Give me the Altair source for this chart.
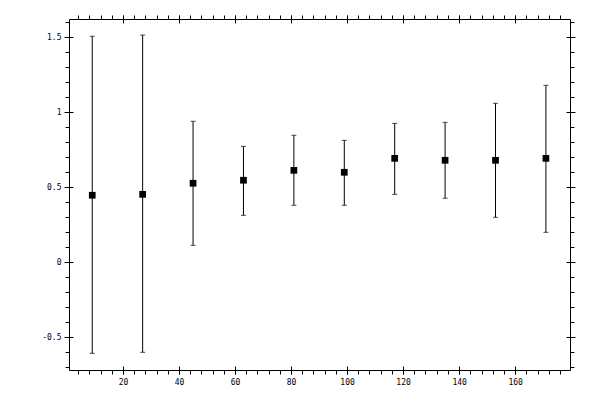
import altair as alt
import pandas as pd

# data
x_pos = [9, 27, 45, 63, 81, 99, 117, 135, 153, 171]
y_mean = [0.445, 0.451, 0.525, 0.545, 0.611, 0.598, 0.691, 0.678, 0.678, 0.691]
y_low = [-0.609, -0.602, 0.111, 0.311, 0.378, 0.378, 0.451, 0.425, 0.298, 0.198]
y_high = [1.505, 1.513, 0.938, 0.771, 0.845, 0.811, 0.924, 0.931, 1.058, 1.178]

x_major = [20, 40, 60, 80, 100, 120, 140, 160]
x_minor = [4 * i for i in range(1, 45)]
y_major = [-0.5, 0, 0.5, 1, 1.5]
y_minor = [round(-0.7 + 0.1 * i, 1) for i in range(0, 24)]

df = pd.DataFrame({"x": x_pos, "y": y_mean, "lo": y_low, "hi": y_high})

xs = alt.Scale(domain=[0.7, 179.6], nice=False, zero=False)
ys = alt.Scale(domain=[-0.72, 1.62], nice=False, zero=False)

FONT = "DejaVu Sans Mono"
common = dict(grid=False, title=None, domainColor="black", tickColor="black",
              domainWidth=1, tickWidth=1, labelColor="black", labelFont=FONT,
              labelFontSize=8, labelOverlap=False, labelFlush=False)

x_lab = "(datum.value % 20 == 0) ? ('' + datum.value) : ''"
y_lab = "(abs(datum.value * 2 - round(datum.value * 2)) < 0.000001) ? ('' + datum.value) : ''"

# minor/all ticks outward, with labels (bottom / left)
ax_x_bottom = alt.Axis(orient="bottom", values=x_minor, labelExpr=x_lab,
                       tickSize=4, labelPadding=4, domain=True, **common)
ax_y_left = alt.Axis(orient="left", values=y_minor, labelExpr=y_lab,
                     tickSize=4, labelPadding=4, domain=True, **common)
# minor ticks outward, no labels (top / right)
ax_x_top = alt.Axis(orient="top", values=x_minor, labels=False,
                    tickSize=4, domain=True, **common)
ax_y_right = alt.Axis(orient="right", values=y_minor, labels=False,
                      tickSize=4, domain=True, **common)
# major ticks crossing the frame
ax_x_bottom_maj = alt.Axis(orient="bottom", values=x_major, labels=False,
                           tickSize=8, offset=-4, domain=False, **common)
ax_y_left_maj = alt.Axis(orient="left", values=y_major, labels=False,
                         tickSize=9, offset=-4, domain=False, **common)
ax_x_top_maj = alt.Axis(orient="top", values=x_major, labels=False,
                        tickSize=8, offset=-4, domain=False, **common)
ax_y_right_maj = alt.Axis(orient="right", values=y_major, labels=False,
                          tickSize=9, offset=-4, domain=False, **common)

base = alt.Chart(df)

rules = base.mark_rule(color="black", strokeWidth=1).encode(
    x=alt.X("x:Q", scale=xs, axis=ax_x_bottom),
    y=alt.Y("lo:Q", scale=ys, axis=ax_y_left),
    y2="hi:Q",
)
caps_lo = base.mark_tick(color="black", orient="horizontal", size=5, thickness=1).encode(
    x=alt.X("x:Q", scale=xs, axis=ax_x_top),
    y=alt.Y("lo:Q", scale=ys, axis=ax_y_right),
)
caps_hi = base.mark_tick(color="black", orient="horizontal", size=5, thickness=1).encode(
    x=alt.X("x:Q", scale=xs, axis=ax_x_bottom_maj),
    y=alt.Y("hi:Q", scale=ys, axis=ax_y_left_maj),
)
squares = base.mark_square(color="black", filled=True, size=45, opacity=1).encode(
    x=alt.X("x:Q", scale=xs, axis=ax_x_top_maj),
    y=alt.Y("y:Q", scale=ys, axis=ax_y_right_maj),
)

chart = (
    alt.layer(rules, caps_lo, caps_hi, squares)
    .resolve_axis(x="independent", y="independent")
    .properties(
        width=501,
        height=351,
        autosize=alt.AutoSizeParams(type="none"),
        padding={"left": 61, "top": 11, "right": 22, "bottom": 22},
        background="white",
    )
    .configure_view(stroke=None)
)

chart.save("out.html", embed_options={"renderer": "svg", "actions": False})
